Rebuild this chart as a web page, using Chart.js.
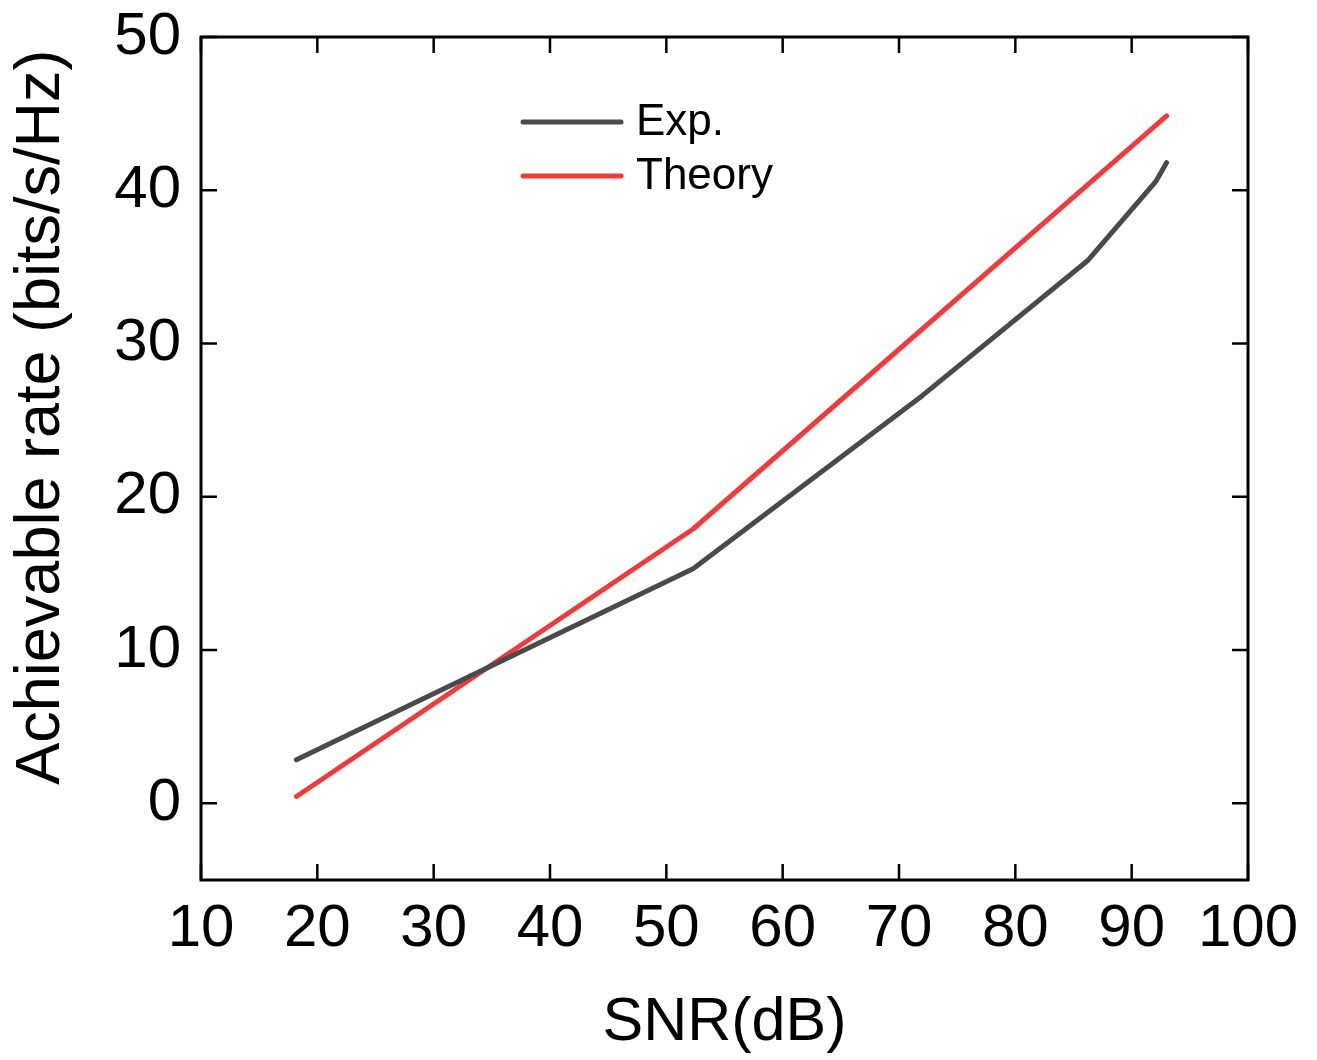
<!DOCTYPE html>
<html>
<head>
<meta charset="utf-8">
<script src="https://cdn.jsdelivr.net/npm/chart.js@4/dist/chart.umd.min.js"></script>
<style>
  html, body { margin: 0; padding: 0; background: #fff; }
  canvas { display: block; }
</style>
</head>
<body>
<canvas id="grafico" width="1317" height="1060"></canvas>
<script>
// ── DATOS ───────────────────────────────────────────────
const snrExp = [18.2, 52.3, 72.0, 86.2, 92.1, 93.0];
const rateExp = [2.85, 15.3, 26.6, 35.4, 40.6, 41.8];
const snrTheory = [18.2, 52.3, 93.0];
const rateTheory = [0.45, 17.9, 44.85];
const xTicks = [10, 20, 30, 40, 50, 60, 70, 80, 90, 100];
const yTicks = [0, 10, 20, 30, 40, 50];
const tituloY = 'Achievable rate (bits/s/Hz)';

const colores = { exp: '#4a4a4a', theory: '#ef3b3b', eje: '#000' };
const fuente = "'Liberation Sans', Arial, sans-serif";

// ── PLUGIN: marco, ticks hacia dentro, título Y y leyenda ──
const marcoPlugin = {
  id: 'marco',
  afterDatasetsDraw(chart) {
    const { ctx, chartArea: a, scales: { x, y } } = chart;
    const len = 16;
    ctx.save();
    ctx.strokeStyle = colores.eje;
    ctx.lineWidth = 3;
    ctx.strokeRect(a.left, a.top, a.right - a.left, a.bottom - a.top);
    ctx.lineWidth = 2.5;
    ctx.beginPath();
    xTicks.forEach(v => {
      const px = x.getPixelForValue(v);
      ctx.moveTo(px, a.bottom); ctx.lineTo(px, a.bottom - len);
      ctx.moveTo(px, a.top); ctx.lineTo(px, a.top + len);
    });
    yTicks.forEach(v => {
      const py = y.getPixelForValue(v);
      ctx.moveTo(a.left, py); ctx.lineTo(a.left + len, py);
      ctx.moveTo(a.right, py); ctx.lineTo(a.right - len, py);
    });
    ctx.stroke();

    // título del eje Y (algo desplazado hacia arriba, como el original)
    ctx.save();
    ctx.translate(42, y.getPixelForValue(25.2));
    ctx.rotate(-Math.PI / 2);
    ctx.fillStyle = '#000';
    ctx.font = `63px ${fuente}`;
    ctx.textAlign = 'center';
    ctx.textBaseline = 'middle';
    ctx.fillText(tituloY, 0, 0);
    ctx.restore();

    // leyenda
    const x0 = a.left + 322, y0 = a.top + 85, paso = 54;
    chart.data.datasets.forEach((ds, i) => {
      const yy = y0 + i * paso;
      ctx.strokeStyle = ds.borderColor;
      ctx.lineWidth = 5;
      ctx.lineCap = 'round';
      ctx.beginPath();
      ctx.moveTo(x0, yy); ctx.lineTo(x0 + 98, yy);
      ctx.stroke();
      ctx.fillStyle = '#000';
      ctx.font = `44px ${fuente}`;
      ctx.textBaseline = 'middle';
      ctx.fillText(ds.label, x0 + 113, yy + 1);
    });
    ctx.restore();
  }
};

new Chart(document.getElementById('grafico').getContext('2d'), {
  type: 'line',
  data: {
    datasets: [
      {
        label: 'Exp.',
        data: snrExp.map((v, i) => ({ x: v, y: rateExp[i] })),
        borderColor: colores.exp,
        borderWidth: 5,
        pointRadius: 0,
        borderCapStyle: 'round',
        borderJoinStyle: 'round'
      },
      {
        label: 'Theory',
        data: snrTheory.map((v, i) => ({ x: v, y: rateTheory[i] })),
        borderColor: colores.theory,
        borderWidth: 5,
        pointRadius: 0,
        borderCapStyle: 'round',
        borderJoinStyle: 'round'
      }
    ]
  },
  options: {
    responsive: false,
    animation: false,
    layout: { padding: { left: 0, right: 69, top: 37, bottom: 0 } },
    plugins: { legend: { display: false }, tooltip: { enabled: false } },
    scales: {
      x: {
        type: 'linear',
        min: 10, max: 100,
        afterBuildTicks: s => { s.ticks = xTicks.map(v => ({ value: v })); },
        afterFit: s => { s.height = 180; s.paddingLeft = 0; s.paddingRight = 0; },
        grid: { display: false, drawTicks: false },
        border: { display: false },
        ticks: { color: '#000', padding: 13, font: { size: 60, family: fuente } },
        title: {
          display: true, text: 'SNR(dB)', color: '#000',
          font: { size: 61, family: fuente }, padding: { top: 0, bottom: 0 }
        }
      },
      y: {
        min: -5, max: 50,
        afterBuildTicks: s => { s.ticks = yTicks.map(v => ({ value: v })); },
        afterFit: s => { s.width = 201; s.paddingTop = 0; s.paddingBottom = 0; },
        grid: { display: false, drawTicks: false },
        border: { display: false },
        ticks: { color: '#000', padding: 20, font: { size: 60, family: fuente } }
      }
    }
  },
  plugins: [marcoPlugin]
});
</script>
</body>
</html>
